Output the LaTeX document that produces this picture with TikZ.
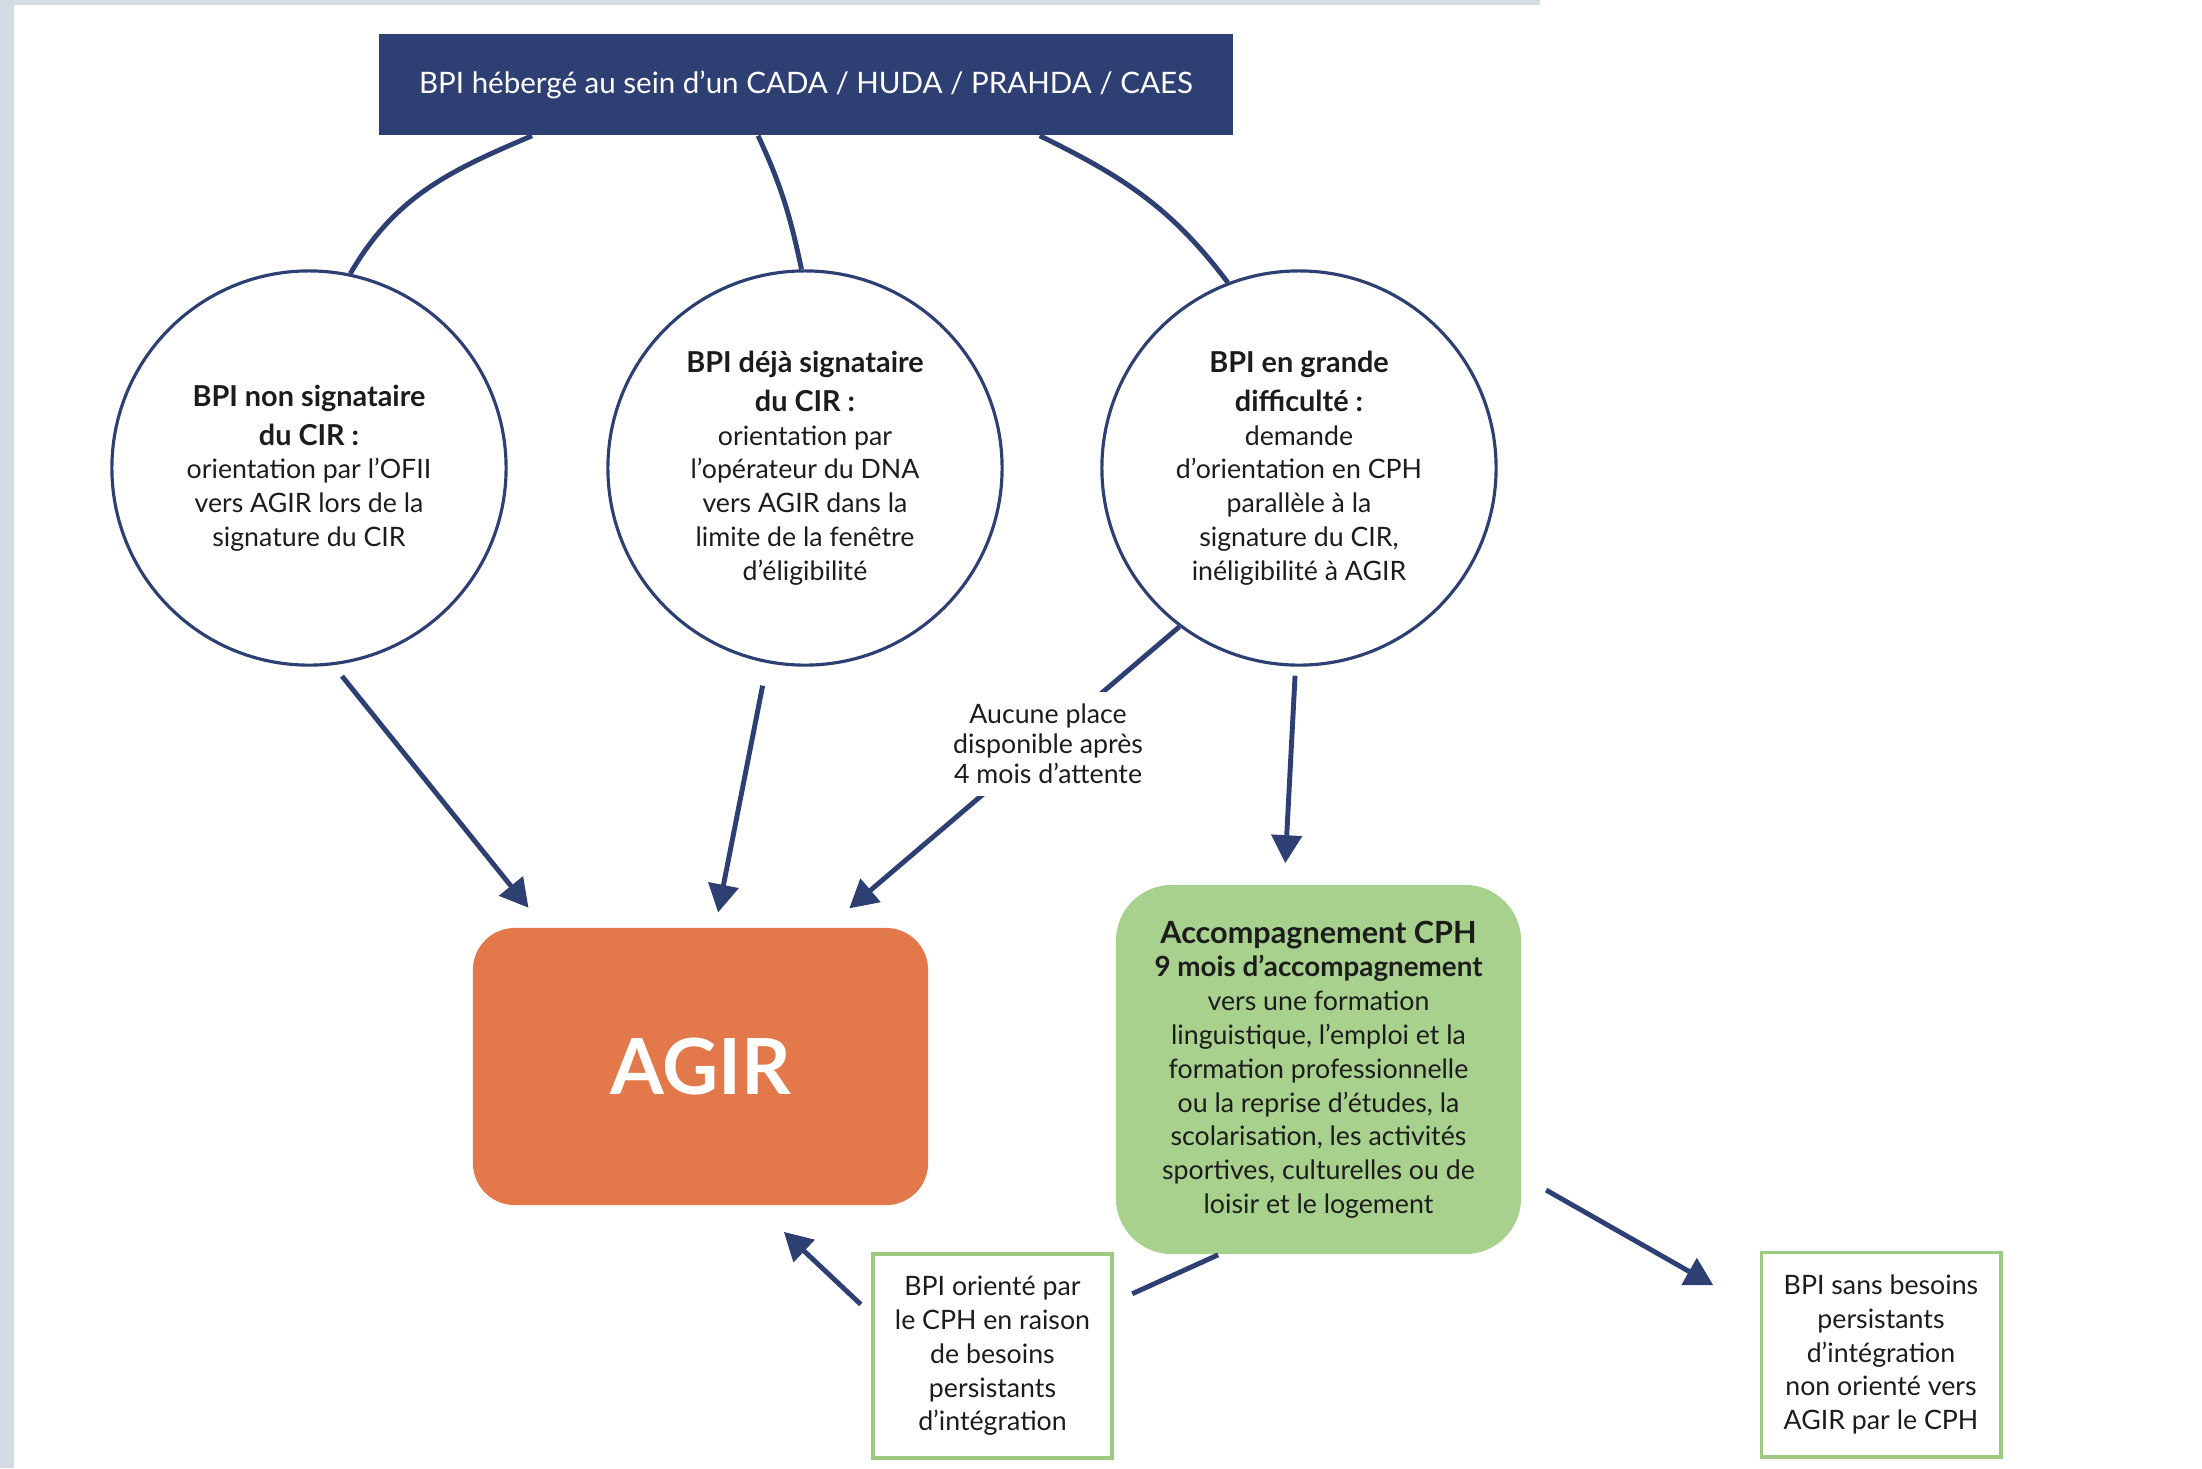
\documentclass[tikz,border=0pt]{standalone}
\usepackage{fontspec}
\setmainfont{Lato}
\usetikzlibrary{calc,arrows.meta}

\definecolor{navy}{HTML}{2E3F73}
\definecolor{agirorange}{HTML}{E3794A}
\definecolor{cphgreen}{HTML}{A9D18E}
\definecolor{boxgreen}{HTML}{9DC981}
\definecolor{edgegrey}{HTML}{D3DCE4}
\definecolor{txt}{HTML}{1C1C1C}

\newcommand{\hd}[1]{{\fontsize{8.2}{10.6}\selectfont\bfseries #1}}

\begin{document}
\begin{tikzpicture}[x=0.01cm, y=-0.01cm,
    link/.style={navy, line width=1.4pt},
    arr/.style={link, -{Triangle[length=0.28cm,width=0.3cm]}},
    bubble/.style={circle, draw=navy, line width=0.9pt, fill=white, minimum size=3.94cm,
        inner sep=0pt, align=center, text=txt, font=\fontsize{7.6}{9.6}\selectfont},
    greenbox/.style={rectangle, draw=boxgreen, line width=1.1pt, fill=white, align=center,
        text=txt, minimum width=2.39cm, minimum height=2.04cm, font=\fontsize{7.6}{9.6}\selectfont},
    lbl/.style={fill=white, align=center, text=txt, inner sep=0.12cm, font=\fontsize{7.6}{8.6}\selectfont}]
    \useasboundingbox (0,0) rectangle (2202,1468);

    % Screenshot edge
    \fill[edgegrey] (0,0) rectangle (14,1468);
    \fill[edgegrey] (0,0) rectangle (1540,5);

    % Top box
    \node[rectangle, fill=navy, text=white, minimum width=8.54cm, minimum height=1.01cm,
        font=\fontsize{8.4}{10}\selectfont] (top) at (806,84.5)
        {BPI hébergé au sein d’un CADA / HUDA / PRAHDA / CAES};

    % Three situations
    \node[bubble] (c1) at (309,468)
        {\hd{BPI non signataire}\\[1.5pt]\hd{du CIR :}\\orientation par l’OFII\\vers AGIR lors de la\\signature du CIR};
    \node[bubble] (c2) at (805,468)
        {\hd{BPI déjà signataire}\\[1.5pt]\hd{du CIR :}\\orientation par\\l’opérateur du DNA\\vers AGIR dans la\\limite de la fenêtre\\d’éligibilité};
    \node[bubble] (c3) at (1299,468)
        {\hd{BPI en grande}\\[1.5pt]\hd{difficulté :}\\demande\\d’orientation en CPH\\parallèle à la\\signature du CIR,\\inéligibilité à AGIR};

    % AGIR and CPH
    \node[rectangle, rounded corners=0.42cm, fill=agirorange, text=white, minimum width=4.55cm,
        minimum height=2.77cm, font=\fontsize{22}{26}\selectfont\bfseries] (agir) at (700.5,1066.5) {AGIR};
    \node[rectangle, rounded corners=0.56cm, fill=cphgreen, text=txt, minimum width=4.05cm,
        minimum height=3.69cm, align=center, font=\fontsize{7.6}{9.6}\selectfont] (cph) at (1318.5,1069.5)
        {{\fontsize{8.7}{10}\selectfont\bfseries Accompagnement CPH}\\{\fontsize{7.9}{9.6}\selectfont\bfseries 9 mois d’accompagnement}\\vers une formation\\linguistique, l’emploi et la\\formation professionnelle\\ou la reprise d’études, la\\scolarisation, les activités\\sportives, culturelles ou de\\loisir et le logement};

    % Exits of CPH
    \node[greenbox] (box1) at (992.5,1356)
        {BPI orienté par\\le CPH en raison\\de besoins\\persistants\\d’intégration};
    \node[greenbox] (box2) at (1881,1354.5)
        {BPI sans besoins\\persistants\\d’intégration\\non orienté vers\\AGIR par le CPH};

    % Curves from top box
    \draw[link] ($(top.south west)!.18!(top.south east)$) to[out=203,in=60] (c1.78);
    \draw[link] ($(top.south west)!.444!(top.south east)$) to[out=295,in=102] (c2.91);
    \draw[link] ($(top.south west)!.773!(top.south east)$) to[out=334,in=127] (c3.111);

    % Arrows to AGIR
    \draw[arr, shorten <=0.14cm, shorten >=0.25cm] (c1.-83) -- ($(agir.north west)+(72,0)$);
    \draw[arr, shorten <=0.23cm, shorten >=0.15cm] (c2.-101) -- ($(agir.north west)+(243,0)$);
    \draw[arr, shorten >=0.29cm] (c3.233) -- node[pos=0.39, lbl, xshift=0.06cm]
        {Aucune place\\disponible après\\4 mois d’attente} ($(agir.north west)+(355,0)$);

    % Arrow to CPH
    \draw[arr, shorten <=0.09cm, shorten >=0.21cm] (c3.-91) -- ($(cph.north west)+(169,0)$);

    % From CPH
    \draw[link, shorten >=0.2cm] ($(cph.south west)+(103,0)$) -- ($(box1.north east)+(0,50)$);
    \draw[arr, shorten <=0.14cm, shorten >=0.38cm] ($(box1.north west)+(0,62)$) -- ($(agir.south west)+(284,0)$);
    \draw[arr, shorten <=0.28cm, shorten >=0.53cm] ($(cph.north east)+(0,292)$) -- ($(box2.north west)+(0,61)$);
\end{tikzpicture}
\end{document}
